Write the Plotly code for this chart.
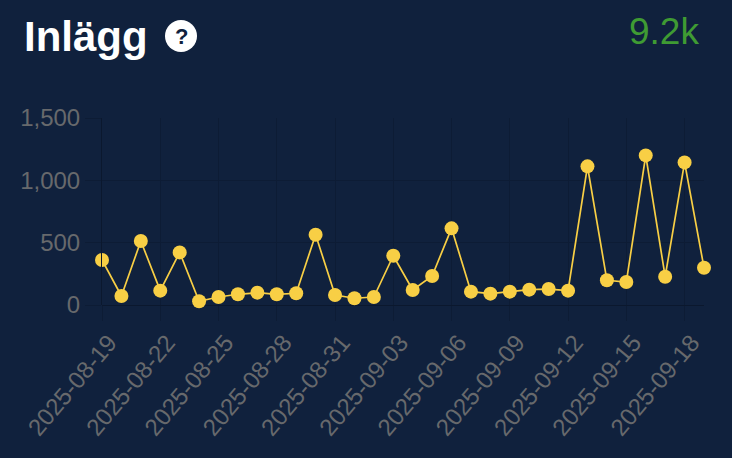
import plotly.graph_objects as go
import pandas as pd

# Data
dates = pd.date_range('2025-08-19', '2025-09-19').strftime('%Y-%m-%d').tolist()
posts = [361, 72, 513, 115, 422, 30, 64, 86, 99, 86, 94, 564, 80, 54, 64, 395,
         120, 233, 615, 107, 91, 107, 123, 128, 115, 1112, 198, 184, 1200, 227, 1144, 299]
y_ticks = [0, 500, 1000, 1500]
title_text = 'Inlägg'
help_text = '?'
total_text = '9.2k'

W, H = 732, 458
BG = '#10213d'
GRID = '#0d1c35'
AXIS = '#0b182e'
YELLOW = '#f8cf45'
GREY = '#67696c'
FONT = 'Liberation Sans'

fig = go.Figure(go.Scatter(
    x = dates, y = posts, mode = 'lines+markers', cliponaxis = False,
    line = dict(color = YELLOW, width = 1.7),
    marker = dict(color = YELLOW, size = 14, line = dict(width = 0))))

fig.update_xaxes(
    type = 'date', range = [dates[0], dates[-1]],
    tick0 = dates[0], dtick = 3 * 86400000, tickformat = '%Y-%m-%d',
    tickangle = -50, ticks = 'outside', ticklen = 15, tickcolor = GRID, tickwidth = 1,
    ticklabelshift = 7, ticklabelstandoff = -2,
    showgrid = True, gridcolor = GRID, gridwidth = 1, zeroline = False,
    tickfont = dict(family = FONT, size = 24, color = GREY))

fig.update_yaxes(
    range = [0, 1500], tickvals = y_ticks, tickformat = ',d',
    ticks = 'outside', ticklen = 16, tickcolor = GRID, tickwidth = 1,
    showgrid = True, gridcolor = GRID, gridwidth = 1,
    zeroline = True, zerolinecolor = AXIS, zerolinewidth = 1,
    showline = True, linecolor = AXIS, linewidth = 1,
    tickfont = dict(family = FONT, size = 24, color = GREY))

fig.update_layout(
    width = W, height = H, showlegend = False,
    paper_bgcolor = BG, plot_bgcolor = BG,
    margin = dict(l = 102, r = 28, t = 118, b = 153),
    shapes = [dict(type = 'circle', xref = 'paper', yref = 'paper', layer = 'above',
                   x0 = (165 - 102) / 602, x1 = (197 - 102) / 602,
                   y0 = (305 - 52) / 187, y1 = (305 - 20) / 187,
                   fillcolor = 'white', line = dict(width = 0))],
    annotations = [
        dict(text = '<b>' + title_text + '</b>', xref = 'paper', yref = 'paper',
             x = (22 - 102) / 602, y = (305 - 36) / 187, xanchor = 'left', yanchor = 'middle',
             showarrow = False, font = dict(family = FONT, size = 42, color = 'white')),
        dict(text = '<b>' + help_text + '</b>', xref = 'paper', yref = 'paper',
             x = (181 - 102) / 602, y = (305 - 36) / 187, xanchor = 'center', yanchor = 'middle',
             showarrow = False, font = dict(family = FONT, size = 22, color = BG)),
        dict(text = total_text, xref = 'paper', yref = 'paper',
             x = (701 - 102) / 602, y = (305 - 32) / 187, xanchor = 'right', yanchor = 'middle',
             showarrow = False, font = dict(family = FONT, size = 37, color = '#3f9b33'))])

# page has a default 8px body margin
fig.write_html("out.html", config = dict(displayModeBar = False),
               post_script = "document.body.style.margin = '0';")
